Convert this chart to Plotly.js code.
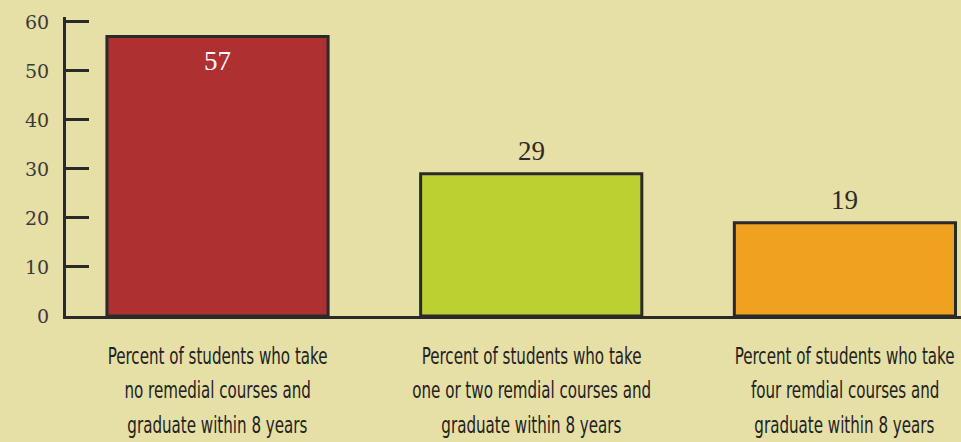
<!DOCTYPE html>
<html>
<head>
<meta charset="utf-8">
<script src="https://cdn.plot.ly/plotly-3.0.1.min.js"></script>
<style>
  html, body { margin: 0; padding: 0; background: #e6dfa6; }
  #chart { width: 961px; height: 442px; }
</style>
</head>
<body>
<div id="chart"></div>
<script>
  // 数据：三组学生毕业比例（%）
  var categories = ["none", "oneTwo", "four"];
  var values = [57, 29, 19];
  var labelLines = [
    ["Percent of students who take", "no remedial courses and", "graduate within 8 years"],
    ["Percent of students who take", "one or two remdial courses and", "graduate within 8 years"],
    ["Percent of students who take", "four remdial courses and", "graduate within 8 years"]
  ];
  var barColors = ["#ae3031", "#bdd031", "#efa220"];
  var valueInside = [true, false, false];
  var yTicks = [0, 10, 20, 30, 40, 50, 60];

  var BG = "#e6dfa6", INK = "#2a2a2a";
  var SERIF = "'DejaVu Serif', serif";
  var TIMES = "'Liberation Serif', serif";
  var SANS = "'DejaVu Sans Condensed', 'Liberation Sans', sans-serif";
  var SQUEEZE = 0.73;   // 分类标签横向压缩，模仿窄体字

  var annotations = [];
  // 数值标签
  categories.forEach(function (c, i) {
    annotations.push({
      x: c, y: values[i], xref: "x", yref: "y", showarrow: false,
      text: String(values[i]),
      yanchor: valueInside[i] ? "top" : "bottom",
      yshift: valueInside[i] ? -7 : 6,
      font: { family: TIMES, size: 27, color: valueInside[i] ? "#ffffff" : INK }
    });
  });
  // 分类标签（每行一个注释，行距较大）
  var lineOffsets = [40, 74, 109];
  categories.forEach(function (c, i) {
    labelLines[i].forEach(function (line, j) {
      annotations.push({
        x: c, y: 0, xref: "x", yref: "paper", showarrow: false,
        text: line, yanchor: "middle", yshift: -lineOffsets[j],
        font: { family: SANS, size: 23, color: "#222222" }
      });
    });
  });

  Plotly.newPlot("chart", [{
    type: "bar",
    x: categories,
    y: values,
    width: 0.705,
    marker: { color: barColors, line: { color: INK, width: 3 } },
    hoverinfo: "none"
  }], {
    width: 961, height: 442,
    paper_bgcolor: BG, plot_bgcolor: BG,
    margin: { l: 66, r: 0, t: 17, b: 126 },
    showlegend: false,
    xaxis: {
      type: "category", range: [-0.483, 2.37],
      showticklabels: false, ticks: "",
      showline: true, linecolor: INK, linewidth: 3,
      showgrid: false, zeroline: false, fixedrange: true
    },
    yaxis: {
      // 上限略高于 60，否则顶端刻度线会被 plotly 隐去
      range: [0, 61], tickvals: yTicks,
      ticks: "inside", ticklen: 23, tickwidth: 3, tickcolor: INK,
      showline: true, linecolor: INK, linewidth: 3,
      showgrid: false, zeroline: false,
      ticklabelstandoff: 10,
      tickfont: { family: SERIF, size: 19, color: "#3a3a3a" },
      fixedrange: true
    },
    annotations: annotations
  }, { displayModeBar: false, staticPlot: true }).then(function (gd) {
    // 把分类标签横向压窄（围绕各自中心）
    gd.querySelectorAll(".annotation text").forEach(function (el) {
      if (el.style.fontFamily.indexOf("Condensed") < 0) return;
      var b = el.getBBox(), cx = b.x + b.width / 2;
      el.setAttribute("transform", "translate(" + cx + ",0) scale(" + SQUEEZE + ",1) translate(" + (-cx) + ",0)");
    });
  });
</script>
</body>
</html>
